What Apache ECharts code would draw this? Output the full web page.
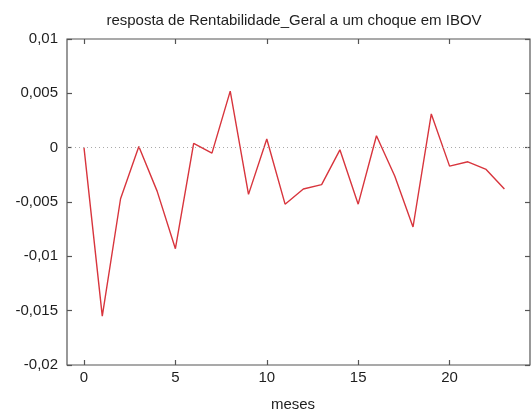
<!DOCTYPE html>
<html>
<head>
<meta charset="utf-8">
<script src="https://cdn.jsdelivr.net/npm/echarts@6/dist/echarts.min.js"></script>
<style>
  html, body { margin: 0; padding: 0; background: #fff; }
  #chart { width: 531px; height: 417px; }
</style>
</head>
<body>
<div id="chart"></div>
<script>
// Impulse response of Rentabilidade_Geral to an IBOV shock, by month
const meses = [0, 1, 2, 3, 4, 5, 6, 7, 8, 9, 10, 11, 12, 13, 14, 15, 16, 17, 18, 19, 20, 21, 22, 23];
const resposta = [0, -0.0155, -0.0047, 0.0001, -0.0040, -0.0093, 0.0004, -0.0005, 0.0052, -0.0043,
  0.0008, -0.0052, -0.0038, -0.0034, -0.0002, -0.0052, 0.0011, -0.0026, -0.0073, 0.0031,
  -0.0017, -0.0013, -0.0020, -0.0038];
const xTicks = [0, 5, 10, 15, 20];
const yTicks = [-0.02, -0.015, -0.01, -0.005, 0, 0.005, 0.01];

const fontFamily = 'Liberation Sans, Arial, sans-serif';
const frameColor = '#555555';
const textColor = '#1e1e1e';
const xMin = -0.93, xMax = 24.4;

function fmtY(v) {
  if (Math.abs(v) < 1e-12) return '0';
  return String(+v.toFixed(3)).replace('.', ',');
}

const chart = echarts.init(document.getElementById('chart'), null, { renderer: 'canvas' });

const tickStyle = { show: true, inside: true, length: 5, lineStyle: { color: frameColor, width: 1.2 } };
const hiddenLine = { show: false, onZero: false };

chart.setOption({
  animation: false,
  title: {
    text: 'resposta de Rentabilidade_Geral a um choque em IBOV',
    left: 289, top: 8, textAlign: 'center',
    textStyle: { fontFamily, fontSize: 15, fontWeight: 'normal', color: textColor }
  },
  graphic: [{
    type: 'text', x: 293, y: 397,
    style: { text: 'meses', fontFamily, fontSize: 15, fill: textColor, align: 'center', verticalAlign: 'top' }
  }],
  grid: {
    left: 67, right: 1, top: 39, bottom: 52,
    show: true, borderColor: frameColor, borderWidth: 1.2, backgroundColor: 'transparent'
  },
  xAxis: [{
    type: 'value', min: xMin, max: xMax, position: 'bottom',
    axisLine: hiddenLine,
    splitLine: { show: false },
    axisTick: Object.assign({ customValues: xTicks }, tickStyle),
    axisLabel: { customValues: xTicks, margin: 5, fontFamily, fontSize: 15, color: textColor }
  }, {
    type: 'value', min: xMin, max: xMax, position: 'top',
    axisLine: hiddenLine, splitLine: { show: false },
    axisTick: Object.assign({ customValues: xTicks }, tickStyle),
    axisLabel: { show: false, customValues: xTicks }
  }],
  yAxis: [{
    type: 'value', min: -0.02, max: 0.01, interval: 0.005, position: 'left',
    axisLine: hiddenLine, splitLine: { show: false },
    axisTick: Object.assign({ customValues: yTicks }, tickStyle),
    axisLabel: { customValues: yTicks, margin: 9, fontFamily, fontSize: 15, color: textColor, formatter: fmtY }
  }, {
    type: 'value', min: -0.02, max: 0.01, interval: 0.005, position: 'right',
    axisLine: hiddenLine, splitLine: { show: false },
    axisTick: Object.assign({ customValues: yTicks }, tickStyle),
    axisLabel: { show: false }
  }],
  series: [{
    type: 'line',
    data: meses.map((m, i) => [m, resposta[i]]),
    showSymbol: false,
    lineStyle: { color: '#d8353d', width: 1.4 },
    markLine: {
      silent: true, symbol: 'none', label: { show: false },
      lineStyle: { color: '#aaaaaa', type: [1, 3], width: 1 },
      data: [{ yAxis: 0 }]
    }
  }]
});
</script>
</body>
</html>
